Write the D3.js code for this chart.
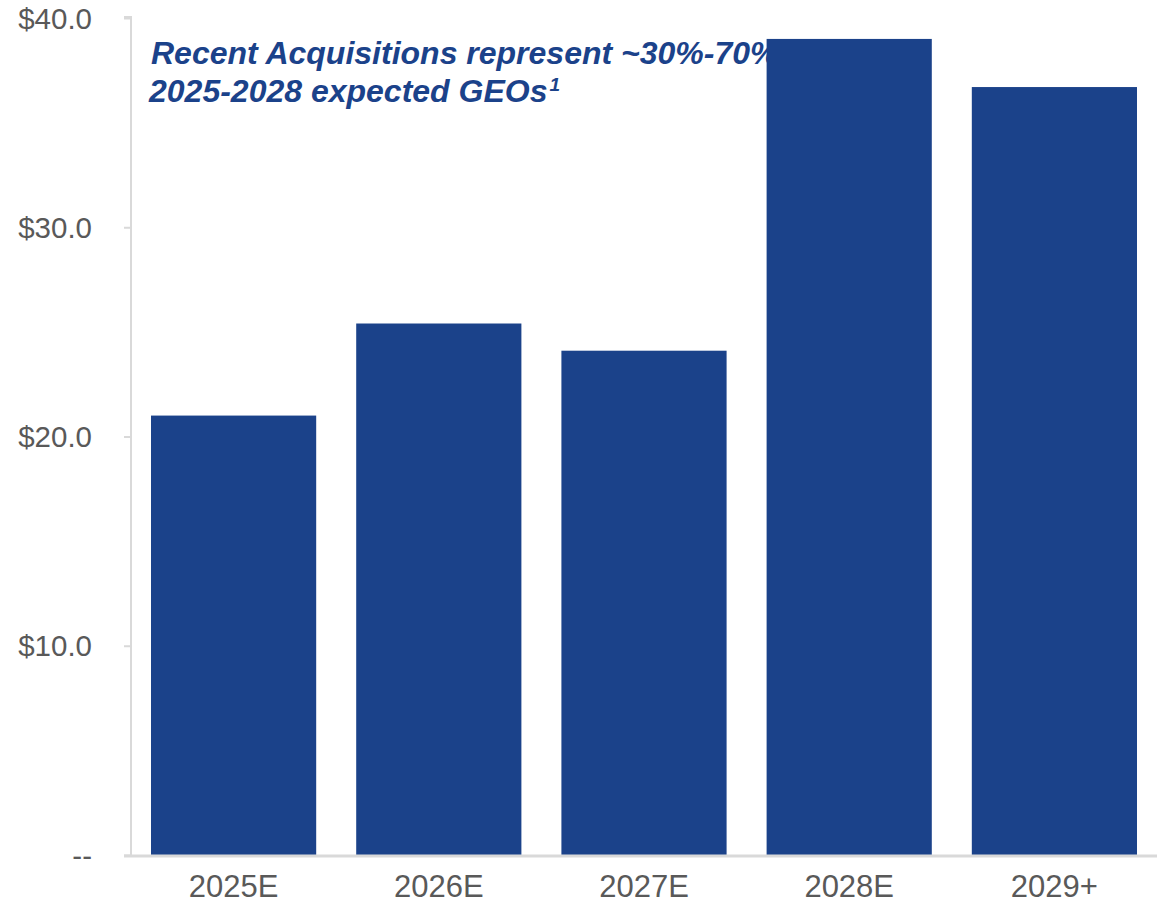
<!DOCTYPE html>
<html>
<head>
<meta charset="utf-8">
<script src="https://cdn.jsdelivr.net/npm/d3@7"></script>
<style>
  html, body { margin: 0; padding: 0; background: #ffffff; }
  svg { display: block; }
</style>
</head>
<body>
<svg id="chart" width="1157" height="903"></svg>
<script>
// Expected GEOs by year
const categories = ["2025E", "2026E", "2027E", "2028E", "2029+"];
const values = [21.0, 25.4, 24.1, 39.0, 36.7];
const yTicks = [0, 10, 20, 30, 40];
const yTickLabels = ["--", "$10.0", "$20.0", "$30.0", "$40.0"];
const noteLines = ["Recent Acquisitions represent ~30%-70%", "2025-2028 expected GEOs"];

const svg = d3.select("#chart");
const plotLeft = 131, plotRight = 1157, plotTop = 18, plotBottom = 855;

const x = d3.scaleBand().domain(categories).range([plotLeft, plotRight])
  .paddingInner(0.195).paddingOuter(0.0975);
const y = d3.scaleLinear().domain([0, 40]).range([plotBottom, plotTop]);

const axisColor = "#d9d9d9";
const textColor = "#595959";
const barColor = "#1b428a";
const font = "'Liberation Sans', Arial, sans-serif";

// Callout text sits beneath the bars
const note = svg.append("text")
  .attr("font-family", font).attr("font-size", 32)
  .attr("font-weight", "bold").attr("font-style", "italic")
  .attr("fill", barColor);
note.append("tspan").attr("x", 151).attr("y", 64).text(noteLines[0]);
note.append("tspan").attr("x", 149).attr("y", 102).text(noteLines[1]);
note.append("tspan").attr("dx", 2).attr("dy", -11).attr("font-size", 19).text("1");

// Y axis
const yAxis = d3.axisLeft(y).tickValues(yTicks)
  .tickFormat((d, i) => yTickLabels[i]).tickSize(7).tickPadding(32);
const gy = svg.append("g").attr("transform", `translate(${plotLeft},0)`).call(yAxis);
gy.select(".domain").attr("stroke", axisColor).attr("stroke-width", 2)
  .attr("d", `M-7,${plotTop - 1}H0V${plotBottom}`);
gy.selectAll(".tick line").attr("stroke", axisColor).attr("stroke-width", 2);
gy.selectAll(".tick text").attr("font-family", font).attr("font-size", 29.5)
  .attr("fill", textColor).attr("dy", "0.34em");

// Bars
svg.append("g").selectAll("rect").data(values).join("rect")
  .attr("x", (d, i) => x(categories[i]))
  .attr("width", x.bandwidth())
  .attr("y", d => y(d))
  .attr("height", d => y(0) - y(d))
  .attr("fill", barColor);

// X axis
const xAxis = d3.axisBottom(x).tickSize(0).tickPadding(19);
const gx = svg.append("g").attr("transform", `translate(0,${plotBottom + 1})`).call(xAxis);
gx.select(".domain").attr("stroke", axisColor).attr("stroke-width", 3)
  .attr("d", `M${plotLeft - 7},0H${plotRight}`);
gx.selectAll(".tick text").attr("font-family", font).attr("font-size", 31)
  .attr("fill", textColor);
</script>
</body>
</html>
